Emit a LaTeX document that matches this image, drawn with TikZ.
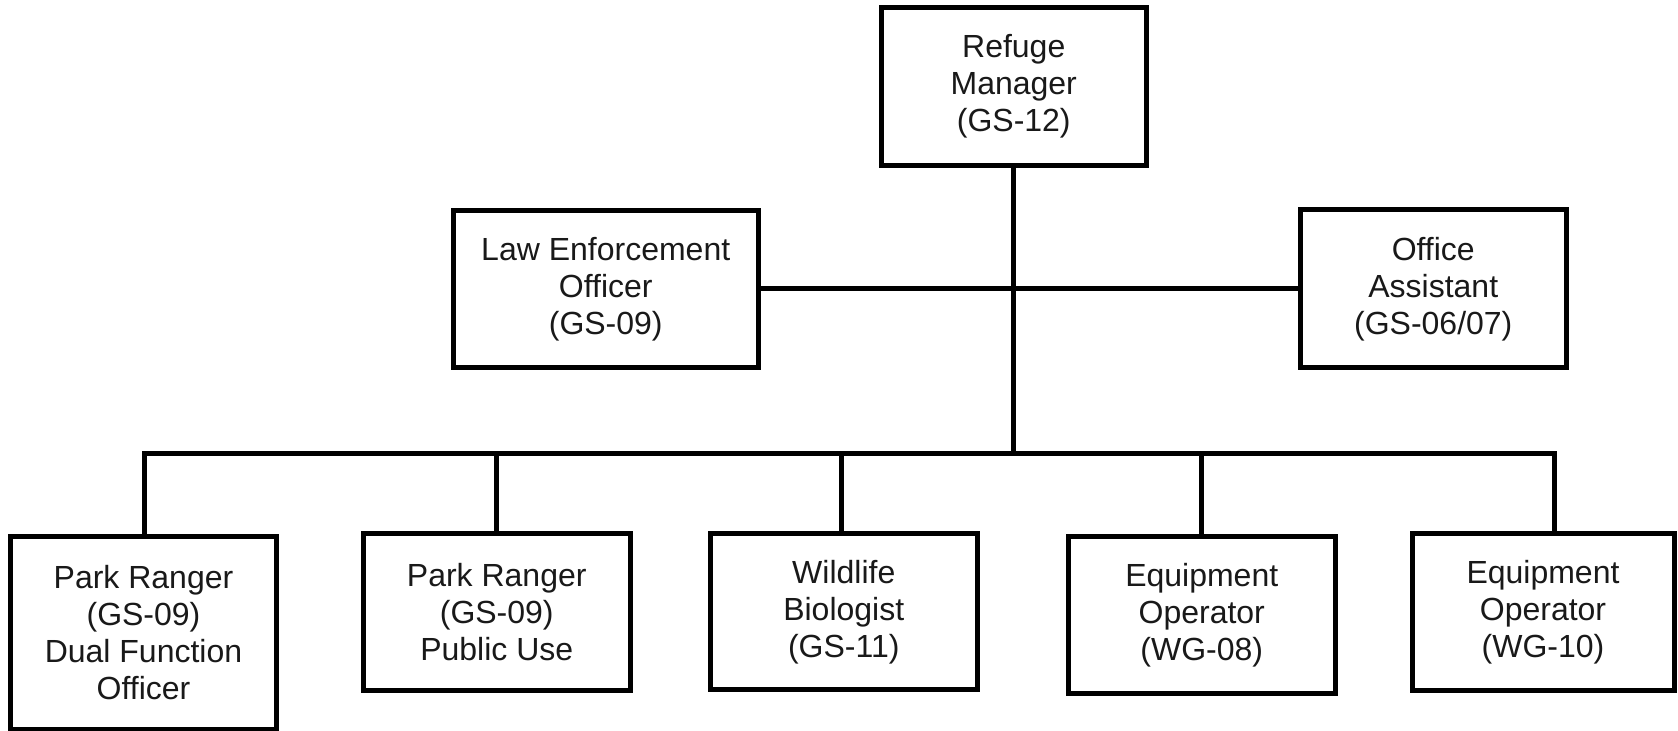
\documentclass[tikz,border=0pt]{standalone}
\usepackage{fontspec}
\setmainfont{Liberation Sans}
\begin{document}
\begin{tikzpicture}[x=0.5pt,y=-0.5pt,
  orgbox/.style={draw=black, line width=2.5pt, rectangle, inner sep=0pt, outer sep=0pt,
    align=center, font=\fontsize{16}{18.5}\selectfont, text=black!90},
  conn/.style={draw=black, line width=2.5pt, line join=miter}]
\useasboundingbox (0,0) rectangle (1678,731);
\fill[white] (0,0) rectangle (1678,731);
% boxes
\node[orgbox, minimum width=132.25pt, minimum height=79pt] (top) at (1013.75,86.5) {Refuge\\Manager\\(GS-12)};
\node[orgbox, minimum width=152.25pt, minimum height=78.5pt] (law) at (605.75,289) {Law Enforcement\\Officer\\(GS-09)};
\node[orgbox, minimum width=132.75pt, minimum height=79pt] (office) at (1433.25,289) {Office\\Assistant\\(GS-06/07)};
\node[orgbox, minimum width=133pt, minimum height=96.5pt] (b1) at (143.5,633) {Park Ranger\\(GS-09)\\Dual Function\\Officer};
\node[orgbox, minimum width=133.25pt, minimum height=78.75pt] (b2) at (496.75,612.25) {Park Ranger\\(GS-09)\\Public Use};
\node[orgbox, minimum width=133.75pt, minimum height=78pt] (b3) at (843.75,612) {Wildlife\\Biologist\\(GS-11)};
\node[orgbox, minimum width=133.75pt, minimum height=78.5pt] (b4) at (1201.75,615) {Equipment\\Operator\\(WG-08)};
\node[orgbox, minimum width=131pt, minimum height=78.75pt] (b5) at (1543,612.25) {Equipment\\Operator\\(WG-10)};
% bus coordinates
\coordinate (busL) at (144.5,454);
\coordinate (busR) at (1554.5,454);
\coordinate (drop3) at (841,454);
% connectors
\draw[conn] (top.south) -- (top.south |- busL);
\draw[conn] (law.east) -- (law.east -| office.west);
\draw[conn] (busL |- b1.north) -- (busL) -- (busR) -- (busR |- b5.north);
\draw[conn] (b2.north |- busL) -- (b2.north);
\draw[conn] (drop3) -- (drop3 |- b3.north);
\draw[conn] (b4.north |- busL) -- (b4.north);
\end{tikzpicture}
\end{document}
